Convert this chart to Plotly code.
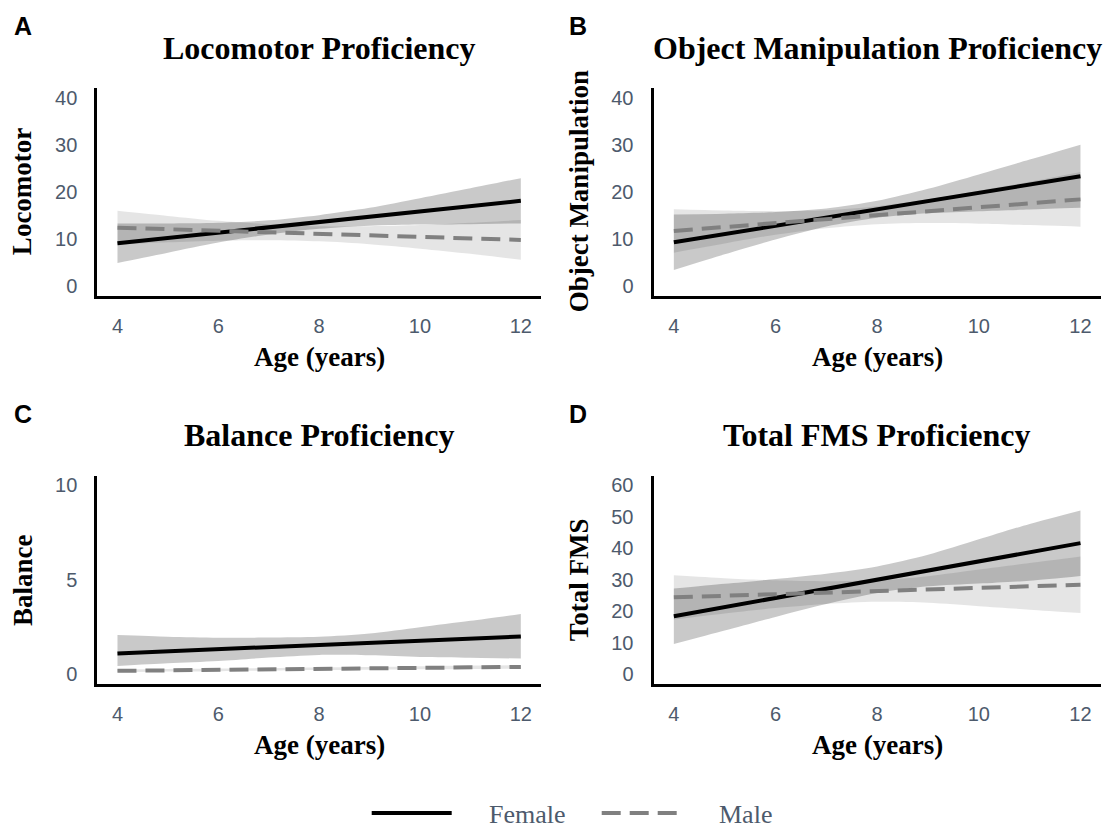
import plotly.graph_objects as go

# ---- data: fitted FMS scores by age, with 95% confidence bands ----
age = [4, 5, 6, 7, 8, 9, 10, 11, 12]

loco_female = [9.1, 10.2, 11.35, 12.45, 13.6, 14.7, 15.85, 16.95, 18.1]
loco_female_lo = [4.9, 7.1, 9.25, 10.95, 12.15, 12.8, 13.05, 13.15, 13.3]
loco_female_hi = [13.3, 13.3, 13.45, 13.95, 15.05, 16.6, 18.65, 20.75, 22.9]
loco_male = [12.4, 12.1, 11.75, 11.45, 11.1, 10.8, 10.45, 10.15, 9.8]
loco_male_lo = [8.8, 9.3, 9.65, 9.75, 9.5, 8.9, 7.95, 6.85, 5.6]
loco_male_hi = [16.0, 14.9, 13.85, 13.15, 12.7, 12.7, 12.95, 13.45, 14.0]

obj_female = [9.3, 11.05, 12.8, 14.55, 16.3, 18.05, 19.8, 21.55, 23.3]
obj_female_lo = [3.4, 6.75, 9.9, 12.65, 14.5, 15.45, 15.9, 16.25, 16.6]
obj_female_hi = [15.2, 15.35, 15.7, 16.45, 18.1, 20.65, 23.7, 26.85, 30.0]
obj_male = [11.7, 12.55, 13.4, 14.2, 15.05, 15.9, 16.75, 17.55, 18.4]
obj_male_lo = [7.1, 9.05, 10.9, 12.3, 13.15, 13.4, 13.25, 12.95, 12.6]
obj_male_hi = [16.3, 16.05, 15.9, 16.1, 16.95, 18.4, 20.25, 22.15, 24.2]

bal_female = [1.1, 1.21, 1.33, 1.44, 1.55, 1.66, 1.78, 1.89, 2.0]
bal_female_lo = [0.44, 0.58, 0.70, 0.88, 1.02, 1.0, 0.91, 0.87, 0.83]
bal_female_hi = [2.07, 1.98, 1.93, 1.94, 1.98, 2.15, 2.49, 2.83, 3.19]
bal_male = [0.18, 0.21, 0.23, 0.26, 0.29, 0.31, 0.34, 0.37, 0.39]
bal_male_lo = [0.10, 0.14, 0.16, 0.19, 0.22, 0.24, 0.26, 0.28, 0.30]
bal_male_hi = [0.26, 0.28, 0.30, 0.33, 0.36, 0.38, 0.42, 0.46, 0.48]

fms_female = [18.4, 21.3, 24.2, 27.1, 30.0, 32.9, 35.8, 38.7, 41.6]
fms_female_lo = [9.6, 13.9, 18.2, 22.3, 25.8, 27.9, 28.8, 29.7, 31.2]
fms_female_hi = [27.2, 28.7, 30.2, 31.9, 34.2, 37.9, 42.8, 47.7, 52.0]
fms_male = [24.4, 24.9, 25.4, 25.9, 26.4, 26.9, 27.4, 27.9, 28.4]
fms_male_lo = [17.4, 19.3, 21.0, 22.3, 23.0, 22.7, 21.6, 20.5, 19.4]
fms_male_hi = [31.4, 30.5, 29.8, 29.5, 29.8, 31.1, 33.2, 35.3, 37.4]

age_ticks = [4, 6, 8, 10, 12]
panel_letters = ["A", "B", "C", "D"]
panel_titles = ["Locomotor Proficiency", "Object Manipulation Proficiency",
                "Balance Proficiency", "Total FMS Proficiency"]
y_titles = ["Locomotor", "Object Manipulation", "Balance", "Total FMS"]
y_ticks = [[0, 10, 20, 30, 40], [0, 10, 20, 30, 40], [0, 5, 10],
           [0, 10, 20, 30, 40, 50, 60]]
x_title = "Age (years)"
legend_labels = ["Female", "Male"]

# ---- layout geometry (pixels) ----
W, H = 1108, 831
col_px = [(97.3, 541.0), (653.5, 1100.8)]
row_px = [(86.5, 295.0), (476.0, 685.0)]

FEMALE_FILL = "rgba(0,0,0,0.21)"
MALE_FILL = "rgba(0,0,0,0.10)"
MALE_LINE = "#808080"
TICK_COLOR = "#4d5a6c"
SERIF = "Liberation Serif, Times New Roman, serif"
SANS = "Liberation Sans, Arial, Helvetica, sans-serif"


def px_x(v):
    return v / W


def px_y(v):
    return 1 - v / H


panels = [
    (loco_female, loco_female_lo, loco_female_hi, loco_male, loco_male_lo, loco_male_hi),
    (obj_female, obj_female_lo, obj_female_hi, obj_male, obj_male_lo, obj_male_hi),
    (bal_female, bal_female_lo, bal_female_hi, bal_male, bal_male_lo, bal_male_hi),
    (fms_female, fms_female_lo, fms_female_hi, fms_male, fms_male_lo, fms_male_hi),
]

fig = go.Figure()
layout_axes = {}
annotations = []


def add_band(lo, hi, fill, xa, ya):
    """Confidence ribbon: lower edge first, upper edge filled down to it."""
    fig.add_trace(go.Scatter(x=age, y=lo, mode="lines",
                             line=dict(width=0, shape="spline", smoothing=0.8),
                             showlegend=False, hoverinfo="skip", xaxis=xa, yaxis=ya))
    fig.add_trace(go.Scatter(x=age, y=hi, mode="lines", fill="tonexty",
                             fillcolor=fill,
                             line=dict(width=0, shape="spline", smoothing=0.8),
                             showlegend=False, hoverinfo="skip", xaxis=xa, yaxis=ya))


for i, (f, f_lo, f_hi, m, m_lo, m_hi) in enumerate(panels):
    r, c = divmod(i, 2)
    n = i + 1
    xa = "x" if n == 1 else f"x{n}"
    ya = "y" if n == 1 else f"y{n}"

    add_band(f_lo, f_hi, FEMALE_FILL, xa, ya)
    fig.add_trace(go.Scatter(x=age, y=f, mode="lines", name="Female",
                             line=dict(color="black", width=4),
                             showlegend=False, xaxis=xa, yaxis=ya))
    add_band(m_lo, m_hi, MALE_FILL, xa, ya)
    fig.add_trace(go.Scatter(x=age, y=m, mode="lines", name="Male",
                             line=dict(color=MALE_LINE, width=4, dash="19px,9px"),
                             showlegend=False, xaxis=xa, yaxis=ya))

    x0, x1 = col_px[c]
    top, bottom = row_px[r]
    yt = y_ticks[i]
    yspan = yt[-1] - yt[0]
    layout_axes["xaxis" if n == 1 else f"xaxis{n}"] = dict(
        domain=[px_x(x0), px_x(x1)], anchor=ya, range=[3.6, 12.4],
        tickvals=age_ticks, showgrid=False, zeroline=False,
        showline=True, linecolor="black", linewidth=3,
        ticks="outside", ticklen=10, tickcolor="rgba(0,0,0,0)",
        tickfont=dict(family=SANS, size=20, color=TICK_COLOR),
        fixedrange=True,
    )
    layout_axes["yaxis" if n == 1 else f"yaxis{n}"] = dict(
        domain=[px_y(bottom), px_y(top)], anchor=xa,
        range=[yt[0] - 0.05 * yspan, yt[-1] + 0.05 * yspan],
        tickvals=yt, showgrid=False, zeroline=False,
        showline=True, linecolor="black", linewidth=3,
        ticks="outside", ticklen=13, tickcolor="rgba(0,0,0,0)",
        tickfont=dict(family=SANS, size=20, color=TICK_COLOR),
        fixedrange=True,
    )

    cx = (x0 + x1) / 2
    base = 0 if r == 0 else 389.5
    # panel title
    annotations.append(dict(text=f"<b>{panel_titles[i]}</b>", x=px_x(cx), y=px_y(base + 46),
                            xref="paper", yref="paper", xanchor="center", yanchor="middle",
                            showarrow=False, font=dict(family=SERIF, size=32, color="black")))
    # panel letter
    annotations.append(dict(text=f"<b>{panel_letters[i]}</b>",
                            x=px_x(23 if c == 0 else 578), y=px_y(base + 24),
                            xref="paper", yref="paper", xanchor="center", yanchor="middle",
                            showarrow=False, font=dict(family=SANS, size=25, color="black")))
    # x axis title
    annotations.append(dict(text=f"<b>{x_title}</b>", x=px_x(cx), y=px_y(base + 357),
                            xref="paper", yref="paper", xanchor="center", yanchor="middle",
                            showarrow=False, font=dict(family=SERIF, size=27, color="black")))
    # y axis title
    annotations.append(dict(text=f"<b>{y_titles[i]}</b>", x=px_x(x0 - 75),
                            y=px_y((top + bottom) / 2), textangle=-90,
                            xref="paper", yref="paper", xanchor="center", yanchor="middle",
                            showarrow=False, font=dict(family=SERIF, size=27, color="black")))

# legend drawn along the bottom edge
legend_y = 815
shapes = [
    dict(type="line", xref="paper", yref="paper", x0=px_x(371.7), x1=px_x(451.7),
         y0=px_y(legend_y), y1=px_y(legend_y), line=dict(color="black", width=4)),
    dict(type="line", xref="paper", yref="paper", x0=px_x(601.7), x1=px_x(678.3),
         y0=px_y(legend_y), y1=px_y(legend_y),
         line=dict(color=MALE_LINE, width=4, dash="19px,9px")),
]
for label, lx in zip(legend_labels, [486.7, 716.7]):
    annotations.append(dict(text=label, x=px_x(lx), y=px_y(legend_y + 1),
                            xref="paper", yref="paper", xanchor="left", yanchor="middle",
                            showarrow=False, font=dict(family=SERIF, size=26, color=TICK_COLOR)))

fig.update_layout(
    width=W, height=H, margin=dict(l=0, r=0, t=0, b=0),
    paper_bgcolor="white", plot_bgcolor="white",
    showlegend=False, annotations=annotations, shapes=shapes,
    **layout_axes,
)

fig.write_html("out.html", config={"displayModeBar": False})
